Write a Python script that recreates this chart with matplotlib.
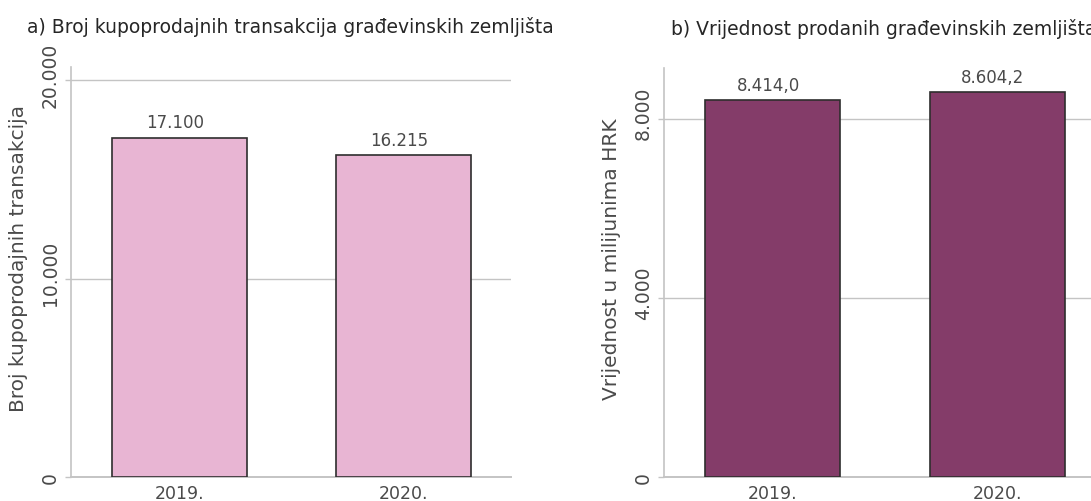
import matplotlib
matplotlib.use("Agg")
import matplotlib.pyplot as plt
import matplotlib.transforms as mtransforms

# Data
years = ["2019.", "2020."]
transactions = [17100, 16215]
transaction_labels = ["17.100", "16.215"]
value_mhrk = [8414.0, 8604.2]
value_labels = ["8.414,0", "8.604,2"]

ticks_a = [0, 10000, 20000]
ticklabels_a = ["0", "10.000", "20.000"]
ticks_b = [0, 4000, 8000]
ticklabels_b = ["0", "4.000", "8.000"]

title_a = "a) Broj kupoprodajnih transakcija građevinskih zemljišta"
title_b = "b) Vrijednost prodanih građevinskih zemljišta"
ylabel_a = "Broj kupoprodajnih transakcija"
ylabel_b = "Vrijednost u milijunima HRK"

plt.rcParams["font.family"] = ["DejaVu Sans"]

W, H, DPI = 1091, 502, 100
fig = plt.figure(figsize=(W / DPI, H / DPI), dpi=DPI)

TEXT = "#4a4a4a"
GRID = "#c4c4c4"


def px(x0, y_top, w, h):
    """Axes rectangle from pixel box (left, top, width, height)."""
    return [x0 / W, (H - y_top - h) / H, w / W, h / H]


def panel(rect, values, labels, color, ticks, ticklabels, ylim_top, title, ylabel):
    ax = fig.add_axes(rect)
    x = list(range(len(years)))
    bars = ax.bar(x, values, width=0.6, color=color, edgecolor="#2e2e2e",
                  linewidth=1.2, zorder=3)
    ax.set_xlim(-0.483, 1.477)
    ax.set_ylim(0, ylim_top)
    ax.set_xticks(x)
    ax.set_xticklabels(years)
    ax.set_yticks(ticks)
    ax.set_yticklabels(ticklabels, rotation=90, va="center")
    ax.yaxis.grid(True, color=GRID, linewidth=1.0, zorder=0)
    ax.set_axisbelow(True)
    for s in ("top", "right"):
        ax.spines[s].set_visible(False)
    ax.spines["left"].set_color(GRID)
    ax.spines["left"].set_linewidth(1.2)
    ax.spines["bottom"].set_color(GRID)
    ax.spines["bottom"].set_linewidth(1.4)
    ax.tick_params(axis="x", length=0, pad=5, labelsize=12.5, labelcolor=TEXT)
    ax.tick_params(axis="y", length=4, width=1.0, color=GRID, pad=4,
                   labelsize=13.5, labelcolor=TEXT)
    # nudge the rotated tick labels a little upward
    for lab in ax.get_yticklabels():
        shift = 0 if len(lab.get_text()) == 1 else 4.5
        lab.set_transform(lab.get_transform() +
                          mtransforms.ScaledTranslation(0, shift / 72, fig.dpi_scale_trans))
    for b, lab in zip(bars, labels):
        ax.annotate(lab, (b.get_x() + b.get_width() / 2, b.get_height()),
                    xytext=(-3, 7.5), textcoords="offset points",
                    ha="center", va="baseline", fontsize=12, color=TEXT)
    ax.set_title(title, fontsize=13.5, color="#262626", pad=25)
    ax.set_ylabel(ylabel, fontsize=14.5, color=TEXT)
    return ax


ax1 = panel(px(70.7, 68, 440.3, 410), transactions, transaction_labels, "#E8B5D3",
            ticks_a, ticklabels_a, 20676, title_a, ylabel_a)
ax2 = panel(px(664, 69.3, 440.3, 408.7), value_mhrk, value_labels, "#843C69",
            ticks_b, ticklabels_b, 9133, title_b, ylabel_b)

for ax in (ax1, ax2):
    ax.yaxis.set_label_coords(-43 / 440.3, 0.535)

fig.savefig("out.png", dpi=DPI)
